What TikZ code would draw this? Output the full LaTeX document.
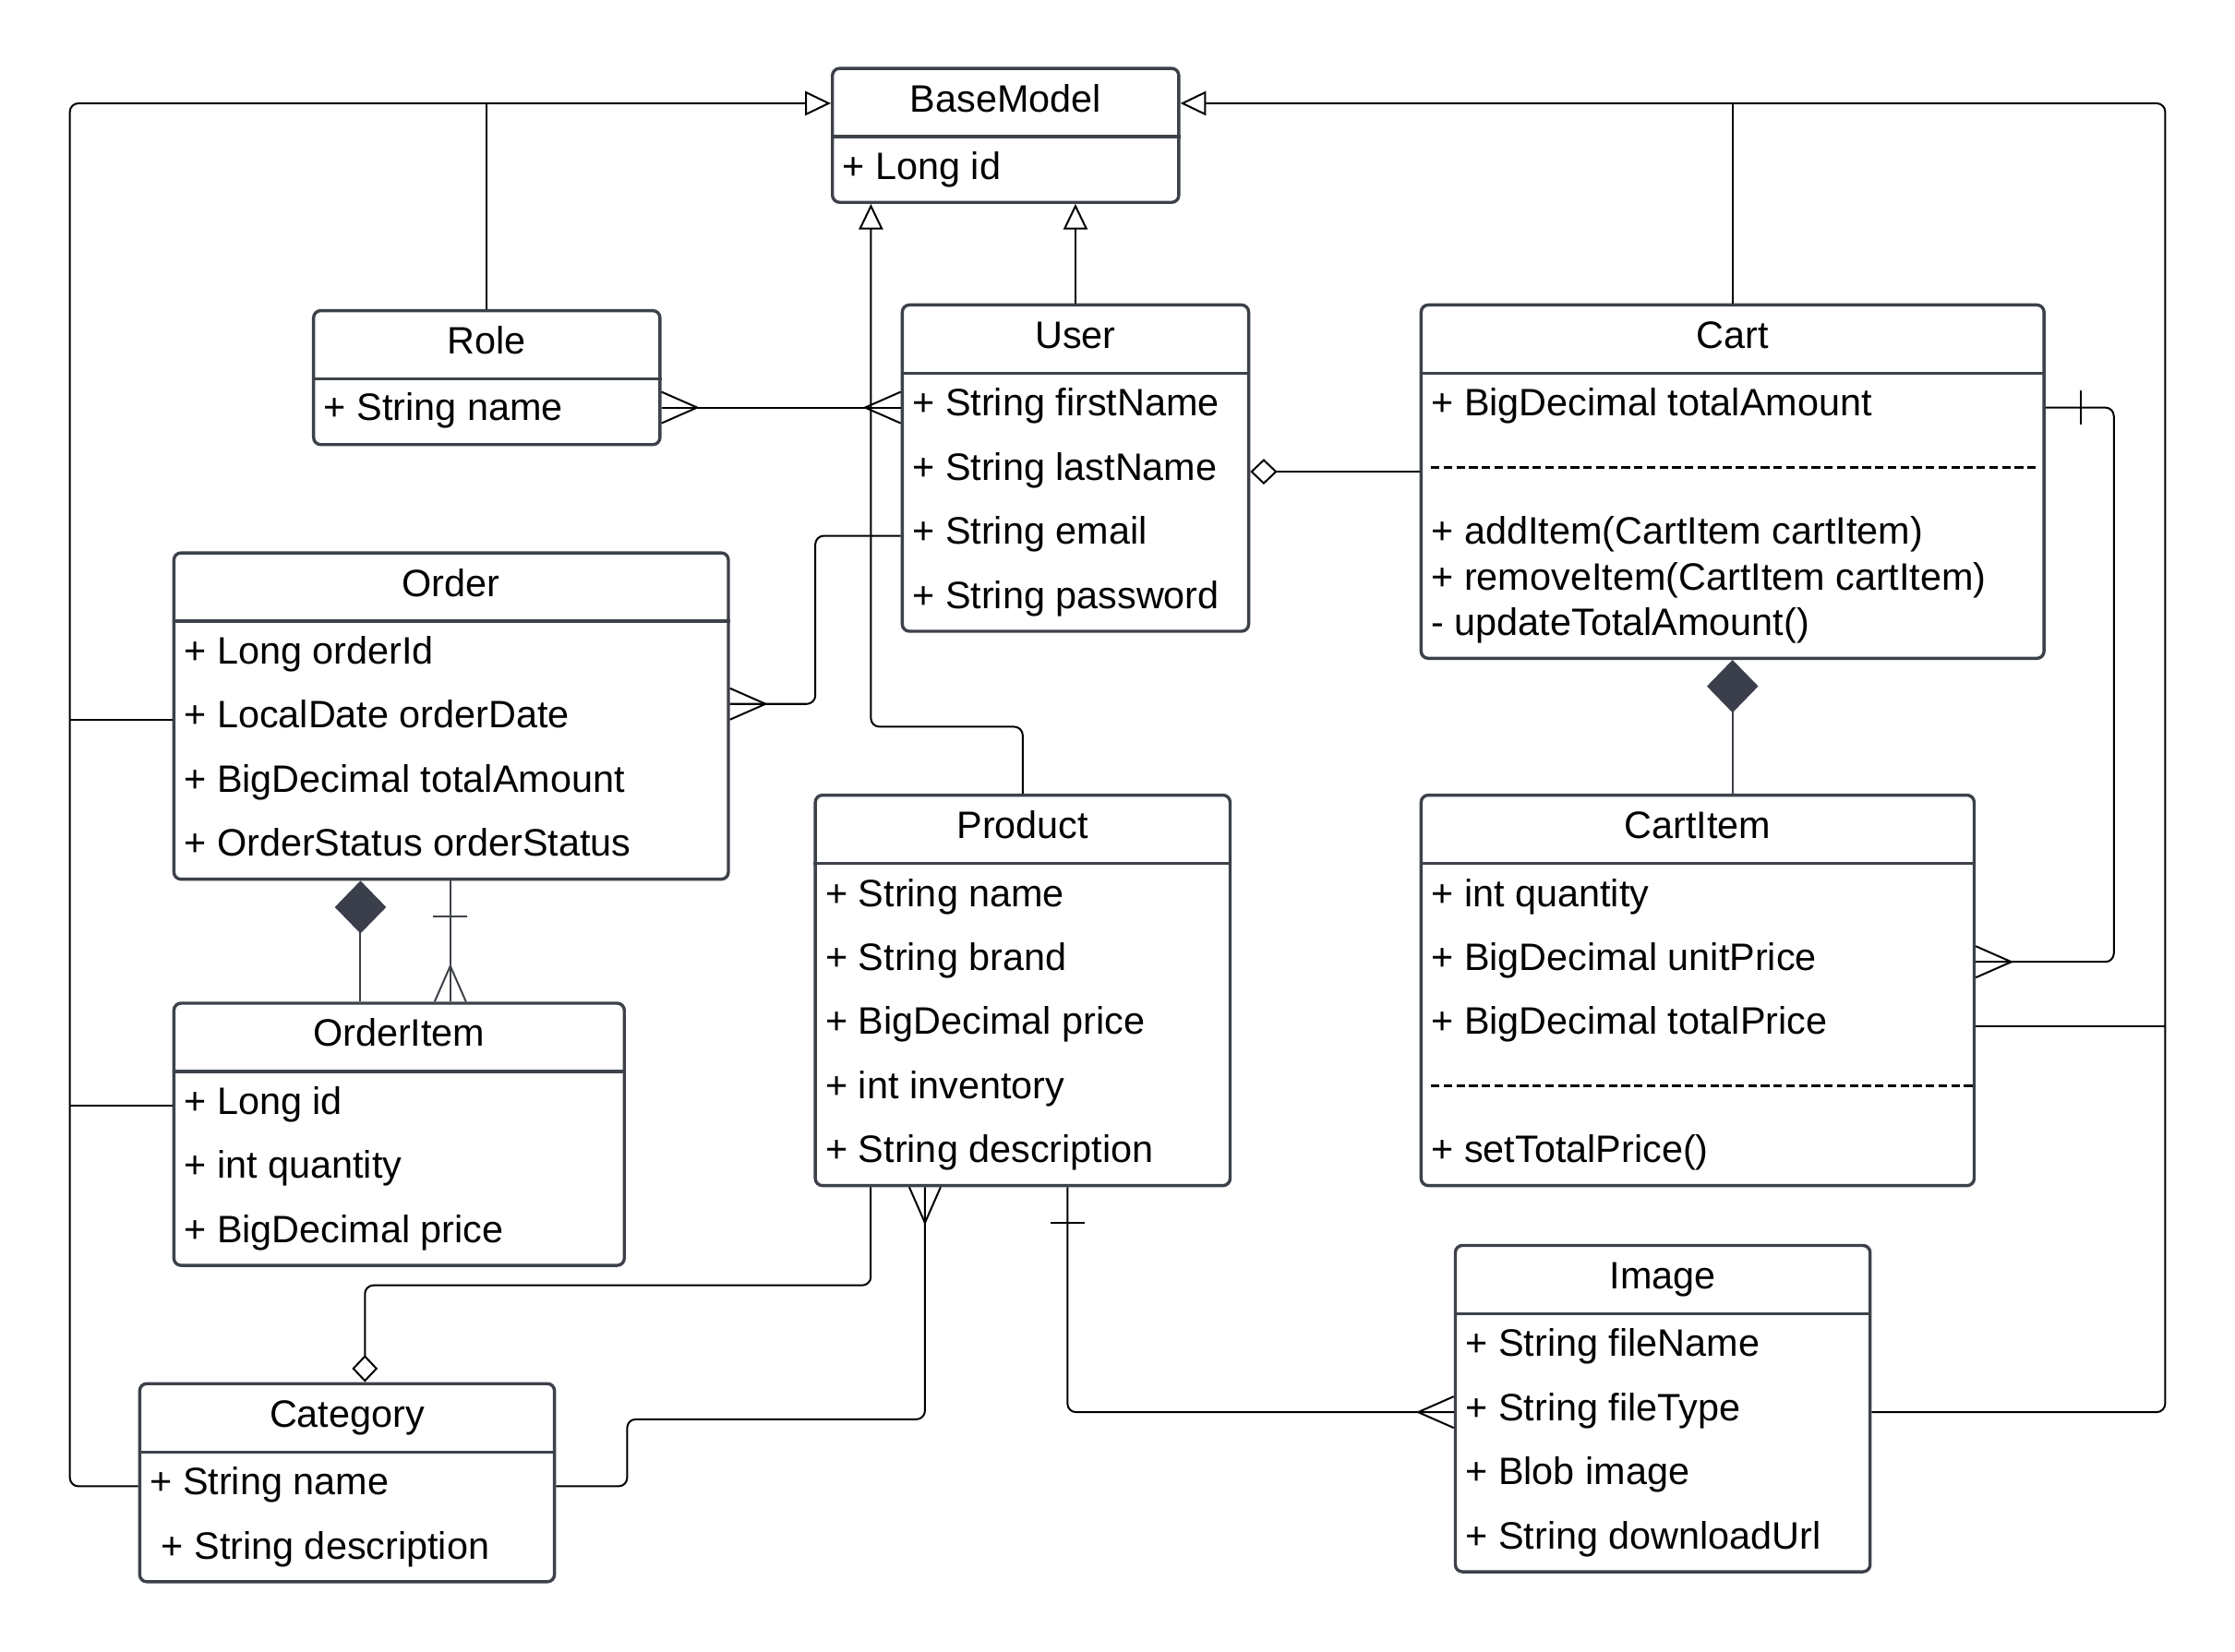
\documentclass[tikz,border=0pt]{standalone}
\usepackage{fontspec}
\setmainfont{Liberation Sans}
\usetikzlibrary{arrows.meta}

\definecolor{boxgray}{HTML}{3D4149}
\definecolor{diafill}{HTML}{3A3F4B}

\tikzset{
  cls/.style={draw=boxgray, line width=2.2pt, rounded corners=5pt, inner sep=0pt, fill=white},
  sep/.style={draw=boxgray, line width=2.2pt},
  dsep/.style={line width=1.6pt, dash pattern=on 6pt off 2.9pt},
  ttl/.style={inner sep=0pt, text height=19pt, text depth=7pt, font=\fontsize{26.8pt}{32pt}\selectfont},
  attr/.style={ttl, anchor=west},
  conn/.style={line width=1.3pt, rounded corners=6pt},
  gen/.style={-{Triangle[open, length=18pt, width=17pt]}},
  comp/.style={conn, draw=boxgray, {Diamond[length=37pt, width=36pt, fill=diafill, color=diafill]}-},
  aggr/.style={{Diamond[open, length=19pt, width=18pt]}-},
  crow/.pic={\draw[line width=1.3pt] (0pt,11pt) -- (25pt,0pt) -- (0pt,-11pt);},
  one/.pic={\draw[line width=1.3pt] (25pt,12pt) -- (25pt,-12pt);}
}

\begin{document}
\begin{tikzpicture}[x=1pt, y=-1pt]
\fill[white] (0,0) rectangle (1568,1159);
\useasboundingbox (0,0) rectangle (1568,1159);

% BaseModel
\node[cls, minimum width=243pt, minimum height=94pt] (base) at (705.5,95) {};
\draw[sep] ([yshift=-49pt]base.north west) -- ([yshift=-49pt]base.north east);
\node[ttl] (base-t) at ([yshift=-25.5pt]base.north) {BaseModel};
\node[attr] (base-a1) at (591,120) {+ Long id};

% Role
\node[cls, minimum width=243pt, minimum height=94pt] (role) at (341.5,265) {};
\draw[sep] ([yshift=-49pt]role.north west) -- ([yshift=-49pt]role.north east);
\node[ttl] (role-t) at ([yshift=-25.5pt]role.north) {Role};
\node[attr] (role-a1) at (227,289) {+ String name};

% User
\node[cls, minimum width=243pt, minimum height=229pt] (user) at (754.5,328.5) {};
\draw[sep] ([yshift=-49pt]user.north west) -- ([yshift=-49pt]user.north east);
\node[ttl] (user-t) at ([yshift=-25.5pt]user.north) {User};
\node[attr] (user-a1) at (640,286) {+ String firstName};
\node[attr] (user-a2) at (640,331) {+ String lastName};
\node[attr] (user-a3) at (640,376) {+ String email};
\node[attr] (user-a4) at (640,421) {+ String password};

% Cart
\node[cls, minimum width=437pt, minimum height=248pt] (cart) at (1215.5,338) {};
\draw[sep] ([yshift=-49pt]cart.north west) -- ([yshift=-49pt]cart.north east);
\node[ttl] (cart-t) at ([yshift=-25.5pt]cart.north) {Cart};
\node[attr] (cart-a1) at (1004,286) {+ BigDecimal totalAmount};
\draw[dsep] (1004,328) -- (1430,328);
\node[attr] (cart-m1) at (1004,376) {+ addItem(CartItem cartItem)};
\node[attr] (cart-m2) at (1004,408) {+ removeItem(CartItem cartItem)};
\node[attr] (cart-m3) at (1004,440) {- updateTotalAmount()};

% Order
\node[cls, minimum width=389pt, minimum height=229pt] (order) at (316.5,502.5) {};
\draw[sep] ([yshift=-49pt]order.north west) -- ([yshift=-49pt]order.north east);
\node[ttl] (order-t) at ([yshift=-25.5pt]order.north) {Order};
\node[attr] (order-a1) at (129,460) {+ Long orderId};
\node[attr] (order-a2) at (129,505) {+ LocalDate orderDate};
\node[attr] (order-a3) at (129,550) {+ BigDecimal totalAmount};
\node[attr] (order-a4) at (129,595) {+ OrderStatus orderStatus};

% Product
\node[cls, minimum width=291pt, minimum height=274pt] (prod) at (717.5,695) {};
\draw[sep] ([yshift=-49pt]prod.north west) -- ([yshift=-49pt]prod.north east);
\node[ttl] (prod-t) at ([yshift=-25.5pt]prod.north) {Product};
\node[attr] (prod-a1) at (579,630) {+ String name};
\node[attr] (prod-a2) at (579,675) {+ String brand};
\node[attr] (prod-a3) at (579,720) {+ BigDecimal price};
\node[attr] (prod-a4) at (579,765) {+ int inventory};
\node[attr] (prod-a5) at (579,810) {+ String description};

% CartItem
\node[cls, minimum width=388pt, minimum height=274pt] (citem) at (1191,695) {};
\draw[sep] ([yshift=-49pt]citem.north west) -- ([yshift=-49pt]citem.north east);
\node[ttl] (citem-t) at ([yshift=-25.5pt]citem.north) {CartItem};
\node[attr] (citem-a1) at (1004,630) {+ int quantity};
\node[attr] (citem-a2) at (1004,675) {+ BigDecimal unitPrice};
\node[attr] (citem-a3) at (1004,720) {+ BigDecimal totalPrice};
\draw[dsep] (1004,762) -- (1385,762);
\node[attr] (citem-m1) at (1004,810) {+ setTotalPrice()};

% OrderItem
\node[cls, minimum width=316pt, minimum height=184pt] (oitem) at (280,796) {};
\draw[sep] ([yshift=-49pt]oitem.north west) -- ([yshift=-49pt]oitem.north east);
\node[ttl] (oitem-t) at ([yshift=-25.5pt]oitem.north) {OrderItem};
\node[attr] (oitem-a1) at (129,776) {+ Long id};
\node[attr] (oitem-a2) at (129,821) {+ int quantity};
\node[attr] (oitem-a3) at (129,866) {+ BigDecimal price};

% Image
\node[cls, minimum width=291pt, minimum height=229pt] (image) at (1166.5,988.5) {};
\draw[sep] ([yshift=-49pt]image.north west) -- ([yshift=-49pt]image.north east);
\node[ttl] (image-t) at ([yshift=-25.5pt]image.north) {Image};
\node[attr] (image-a1) at (1028,946) {+ String fileName};
\node[attr] (image-a2) at (1028,991) {+ String fileType};
\node[attr] (image-a3) at (1028,1036) {+ Blob image};
\node[attr] (image-a4) at (1028,1081) {+ String downloadUrl};

% Category
\node[cls, minimum width=291pt, minimum height=139pt] (cat) at (243.5,1040.5) {};
\draw[sep] ([yshift=-49pt]cat.north west) -- ([yshift=-49pt]cat.north east);
\node[ttl] (cat-t) at ([yshift=-25.5pt]cat.north) {Category};
\node[attr] (cat-a1) at (105,1043) {+ String name};
\node[attr] (cat-a2) at (113,1088) {+ String description};

% bends
\coordinate (lbus) at (49,72.5);
\coordinate (rbus) at (1519,72.5);
\coordinate (pb) at (611,510);
\coordinate (ob) at (572,494);
\coordinate (cr) at (1483,286);
\coordinate (pc1) at (256,902);
\coordinate (pc2) at (440,996);

% inheritance
\draw[conn, gen] (cat.west |- cat-a1) -| (lbus) -- (base.west |- lbus);
\draw[conn] (order.west |- order-a2) -- (lbus |- order-a2);
\draw[conn] (oitem.west |- oitem-a1) -- (lbus |- oitem-a1);
\draw[conn] (role.north) -- (role.north |- lbus);
\draw[conn, gen] (image.east |- image-a2) -| (rbus) -- (base.east |- rbus);
\draw[conn] (cart.north) -- (cart.north |- rbus);
\draw[conn] (citem.east |- citem-a3) -- (rbus |- citem-a3);
\draw[conn, gen] (user.north) -- (user.north |- base.south);
\draw[conn, gen] (prod.north) |- (pb) -- (pb |- base.south);

% associations
\draw[conn] (role.east |- user-a1) -- (user.west |- user-a1);
\pic at (role.east |- user-a1) {crow};
\pic[rotate=180] at (user.west |- user-a1) {crow};
\draw[conn, aggr] (user.east |- user-a2) -- (cart.west |- user-a2);
\draw[conn] (user.west |- user-a3) -| (ob) -- (order.east |- ob);
\pic at (order.east |- ob) {crow};

\draw[comp] ([xshift=132pt]order.south west) -- ([xshift=132pt]oitem.north west);
\draw[conn, draw=boxgray] ([xshift=195pt]order.south west) -- ([xshift=195pt]oitem.north west);
\pic[rotate=-90, color=boxgray] at ([xshift=195pt]order.south west) {one};
\pic[rotate=90, color=boxgray] at ([xshift=195pt]oitem.north west) {crow};

\draw[comp] (cart.south) -- (cart.south |- citem.north);
\draw[conn] (cart.east |- cart-a1) -| (cr |- citem-a2) -- (citem.east |- citem-a2);
\pic at (cart.east |- cart-a1) {one};
\pic at (citem.east |- citem-a2) {crow};

\draw[conn, aggr] (cat.north -| pc1) -- (pc1) -| ([xshift=40pt]prod.south west);
\draw[conn] ([xshift=78pt]prod.south west) |- (pc2) |- (cat.east |- cat-a1);
\pic[rotate=-90] at ([xshift=78pt]prod.south west) {crow};
\draw[conn] ([xshift=178pt]prod.south west) |- (image.west |- image-a2);
\pic[rotate=-90] at ([xshift=178pt]prod.south west) {one};
\pic[rotate=180] at (image.west |- image-a2) {crow};
\end{tikzpicture}
\end{document}
